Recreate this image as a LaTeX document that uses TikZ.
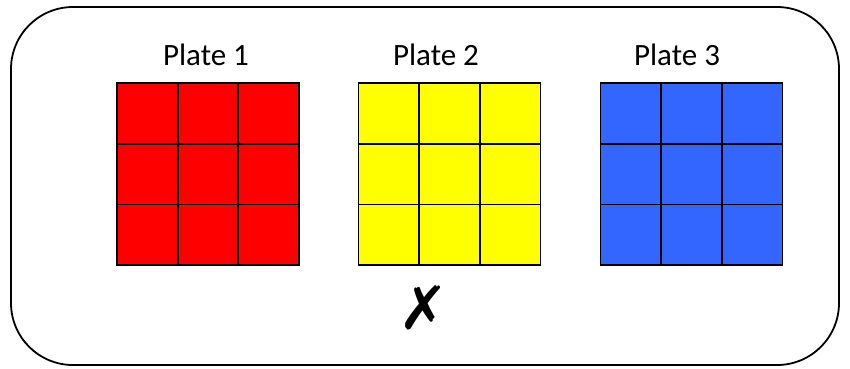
\documentclass[tikz,border=0pt]{standalone}
\usepackage{fontspec}
\setmainfont{Carlito}
\newfontfamily\symfont{DejaVu Sans}
\usetikzlibrary{positioning}

\definecolor{plateRed}{HTML}{FF0000}
\definecolor{plateYellow}{HTML}{FFFF00}
\definecolor{plateBlue}{HTML}{3366FF}

\begin{document}
\begin{tikzpicture}[
    x=1pt, y=-1pt,
    frame/.style={draw, line width=1.8pt, rounded corners=62pt},
    cell/.style={draw, line width=1.7pt, minimum size=60.6pt, inner sep=0pt},
    platelabel/.style={anchor=base, font=\fontsize{31}{34}\selectfont}
]
\useasboundingbox (0,0) rectangle (850,368);

% Outer frame
\draw[frame] (11,7) rectangle (839,365);

% Plates
\foreach \p/\cx/\lx/\col in {1/208/206/plateRed, 2/449.5/436/plateYellow, 3/691.5/677/plateBlue}{
    \foreach \r in {0,1,2}{
        \foreach \c in {0,1,2}{
            \node[cell, fill=\col] (p\p-\r-\c) at (\cx-60.6+60.6*\c, 113.5+60.6*\r) {};
        }
    }
    \node[platelabel] (label\p) at (\lx,65) {Plate \p};
}

% Mark under plate 2
\node[font=\symfont\fontsize{60}{64}\selectfont] (cross) at (424,308) {✗};
\end{tikzpicture}
\end{document}
